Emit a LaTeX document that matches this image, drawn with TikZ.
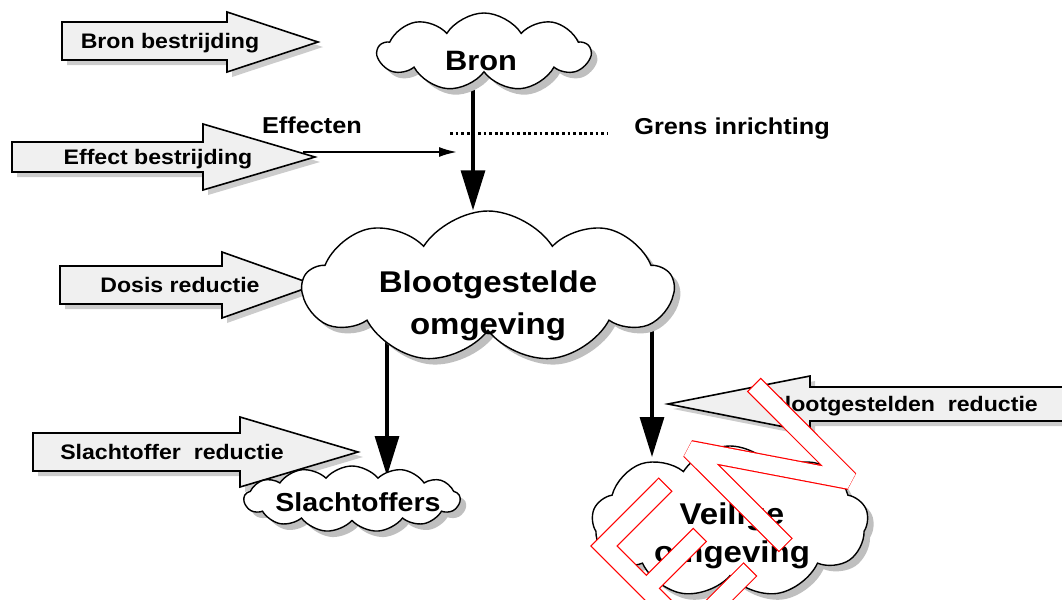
\documentclass[tikz,border=0pt]{standalone}
\usepackage{fontspec}
\setmainfont{Liberation Sans}[FakeStretch=1.1]
\usetikzlibrary{shapes.symbols,arrows.meta,backgrounds}

\tikzset{
  wolk/.style={cloud, cloud puffs=9, cloud puff arc=115, cloud ignores aspect,
    draw, line width=0.7pt, fill=white, inner sep=0pt,
    preaction={fill=gray!50, transform canvas={shift={(3pt,-3pt)}}}},
  wolktekst/.style={font=\fontsize{15}{21}\selectfont\bfseries, align=center, inner sep=0pt},
  pijlblok/.style={draw, line width=0.8pt, fill=gray!12, line join=miter,
    preaction={fill=gray!40, transform canvas={shift={(2.5pt,-2.5pt)}}}},
  pijltekst/.style={font=\fontsize{10.5}{12}\selectfont\bfseries, anchor=base, inner sep=0pt},
  kop/.style={font=\fontsize{11.5}{14}\selectfont\bfseries, anchor=base, inner sep=0pt},
  stroom/.style={line width=1.6pt, -{Triangle[length=20pt,width=12pt]}},
  effectpijl/.style={line width=1pt, -{Latex[length=9pt,width=5pt]}},
  grenslijn/.style={line width=1.5pt, dash pattern=on 1.4pt off 1.4pt},
  ENrand/.style={red, line width=9.8pt, shorten <=-0.6pt, shorten >=-0.6pt},
  ENvlak/.style={white, line width=8.6pt}
}

\begin{document}
\begin{tikzpicture}[x=0.5pt, y=-0.5pt]
  \useasboundingbox (0,0) rectangle (1062,600);
  \clip (0,0) rectangle (1062,600);
  % blokpijlen
  \draw[pijlblok] (62,22) -- (227,22) -- (227,12) -- (318,42) -- (227,72) -- (227,60) -- (62,60) -- cycle;
  \draw[pijlblok] (12,142) -- (203,142) -- (203,124) -- (315,157) -- (203,190) -- (203,172) -- (12,172) -- cycle;
  \draw[pijlblok] (60,266) -- (222,266) -- (222,252) -- (315,285) -- (222,318) -- (222,304) -- (60,304) -- cycle;
  \draw[pijlblok] (33,433) -- (240,433) -- (240,417) -- (358,452) -- (240,487) -- (240,471) -- (33,471) -- cycle;
  \draw[pijlblok] (1075,387) -- (810,387) -- (810,376) -- (668,404) -- (810,432) -- (810,421) -- (1075,421) -- cycle;
  \node[pijltekst] (bronbestr) at (170,48) {Bron bestrijding};
  \node[pijltekst] (effectbestr) at (158,164) {Effect bestrijding};
  \node[pijltekst] (dosisred) at (180,292) {Dosis reductie};
  \node[pijltekst] (slachtred) at (172,459) {Slachtoffer~ reductie};
  \node[pijltekst] (blootred) at (903,411) {Blootgestelden~ reductie};
  % wolken
  \node[wolk, minimum width=106pt, minimum height=39pt] (bron) at (484,52) {};
  \node[wolk, minimum width=185pt, minimum height=76pt] (bloot) at (488,287) {};
  \node[wolk, cloud puffs=13, cloud puff arc=100, minimum width=108pt, minimum height=33pt] (slacht) at (352,499) {};
  \node[wolk, minimum width=138pt, minimum height=76pt] (veilig) at (730,522) {};
  \node[wolktekst, font=\fontsize{14}{16}\selectfont\bfseries, anchor=base] (brontxt) at (481,70) {Bron};
  \node[wolktekst] (blootxt) at (488,306) {Blootgestelde\\omgeving};
  \node[wolktekst, font=\fontsize{13}{16}\selectfont\bfseries, anchor=base] (slachtxt) at (358,511) {Slachtoffers};
  \node[wolktekst, font=\fontsize{15}{19}\selectfont\bfseries] (veiligtxt) at (732,536) {Veilige\\omgeving};
  % effecten en grens
  \node[kop] (effecten) at (312,133) {Effecten};
  \node[kop, anchor=base west] (grens) at (634,134) {Grens inrichting};
  \coordinate (grensL) at (450,133);
  \coordinate (grensR) at (607,133);
  \draw[grenslijn] (grensL) -- (grensR);
  \coordinate (effA) at (303,152);
  \coordinate (effB) at (457,152);
  \draw[effectpijl] (effA) -- (effB);
  % stroompijlen
  \coordinate (bronvoet) at ([xshift=-5.5pt]bron.south);
  \coordinate (slachtop) at (387,476);
  \coordinate (veiligtop) at (652,457);
  \begin{pgfonlayer}{background}
    \draw[stroom] (bronvoet) -- (bronvoet |- bloot.north);
    \draw[stroom] (slachtop |- bloot.south) -- (slachtop);
    \draw[stroom] (veiligtop |- bloot.south) -- (veiligtop);
  \end{pgfonlayer}
  % EN
  \draw[ENrand, line join=miter] (664.8,485.1) -- (604,546) -- (688.8,630.8) -- (749.6,570);
  \draw[ENrand] (646.4,588.4) -- (699.4,535.4);
  \draw[ENrand, line join=bevel] (785,544.5) -- (690.2,449.8) -- (849.3,480.2) -- (754.6,385.4);
  \draw[ENvlak, line join=miter] (664.8,485.1) -- (604,546) -- (688.8,630.8) -- (749.6,570);
  \draw[ENvlak] (646.4,588.4) -- (699.4,535.4);
  \draw[ENvlak, line join=bevel] (785,544.5) -- (690.2,449.8) -- (849.3,480.2) -- (754.6,385.4);
\end{tikzpicture}
\end{document}
